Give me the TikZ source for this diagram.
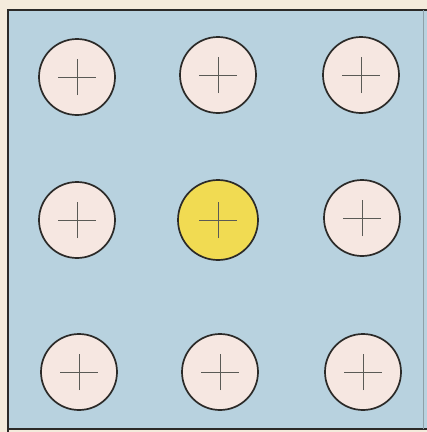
\documentclass[tikz,border=0pt]{standalone}
\definecolor{paper}{HTML}{F4EBDC}
\definecolor{panel}{HTML}{B8D2DF}
\definecolor{disc}{HTML}{F6E7E1}
\definecolor{sun}{HTML}{F1DB52}
\definecolor{ink}{HTML}{2B2A28}
\definecolor{crossc}{HTML}{5A5A55}
\begin{document}
\begin{tikzpicture}[x=1pt,y=-1pt,
  hole/.style={circle,draw=ink,line width=1.7pt,fill=disc,minimum size=76pt,inner sep=0pt},
  hot/.style={hole,fill=sun,minimum size=80pt},
  crossline/.style={draw=crossc,line width=0.8pt}]
\useasboundingbox (0,0) rectangle (427,432);
\fill[paper] (0,0) rectangle (427,432);
\fill[panel] (8,10) rectangle (427,429);
\draw[ink,line width=1.5pt] (8,432) -- (8,10) -- (427,10);
\draw[ink,line width=1.5pt] (8,429) -- (427,429);
\draw[panel!70!ink,line width=0.5pt] (423,10) -- (423,429);
\node[hole] (c11) at (77,77) {};
\node[hole] (c12) at (218,75) {};
\node[hole] (c13) at (361,75) {};
\node[hole] (c21) at (77,220) {};
\node[hot]  (c22) at (218,220) {};
\node[hole] (c23) at (362,218) {};
\node[hole] (c31) at (79,372) {};
\node[hole] (c32) at (220,372) {};
\node[hole] (c33) at (363,372) {};
\foreach \n in {c11,c12,c13,c21,c22,c23,c31,c32,c33}{
  \draw[crossline] ([xshift=-19pt]\n.center) -- ([xshift=19pt]\n.center);
  \draw[crossline] ([yshift=-18pt]\n.center) -- ([yshift=18pt]\n.center);
}
\end{tikzpicture}
\end{document}
